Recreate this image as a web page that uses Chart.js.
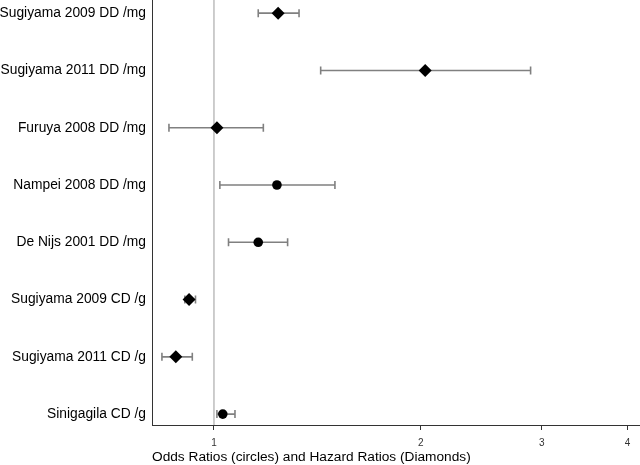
<!DOCTYPE html>
<html>
<head>
<meta charset="utf-8">
<script src="https://cdn.jsdelivr.net/npm/chart.js@4/dist/chart.umd.min.js"></script>
<style>
  html, body { margin: 0; padding: 0; background: #fff; }
  #wrap { width: 640px; height: 465px; }
</style>
</head>
<body>
<div id="wrap"><canvas id="forest"></canvas></div>
<script>
// Forest plot data (top to bottom)
const studies = ['Sugiyama 2009 DD /mg', 'Sugiyama 2011 DD /mg', 'Furuya 2008 DD /mg', 'Nampei 2008 DD /mg',
                 'De Nijs 2001 DD /mg', 'Sugiyama 2009 CD /g', 'Sugiyama 2011 CD /g', 'Sinigagila CD /g'];
const estimates = [1.24, 2.03, 1.01, 1.235, 1.16, 0.92, 0.88, 1.03];
const lower = [1.16, 1.43, 0.86, 1.02, 1.05, 0.907, 0.84, 1.01];
const upper = [1.33, 2.89, 1.18, 1.50, 1.28, 0.94, 0.93, 1.073];
const measure = ['HR', 'HR', 'HR', 'OR', 'OR', 'HR', 'HR', 'OR']; // HR = diamond, OR = circle
const xTicks = [1, 2, 3, 4];

const errorBars = {
    id: 'errorBars',
    beforeDatasetsDraw(chart) {
        const { ctx, chartArea, scales: { x, y } } = chart;
        ctx.save();
        // reference line at 1
        const x1 = x.getPixelForValue(1);
        ctx.strokeStyle = '#bdbdbd';
        ctx.lineWidth = 1.5;
        ctx.beginPath();
        ctx.moveTo(x1, chartArea.top);
        ctx.lineTo(x1, chartArea.bottom);
        ctx.stroke();
        // confidence intervals
        ctx.strokeStyle = '#808080';
        ctx.lineWidth = 1.6;
        studies.forEach((s, i) => {
            const py = y.getPixelForValue(i);
            const a = x.getPixelForValue(lower[i]);
            const b = x.getPixelForValue(upper[i]);
            ctx.beginPath();
            ctx.moveTo(a, py); ctx.lineTo(b, py);
            ctx.moveTo(a, py - 4); ctx.lineTo(a, py + 4);
            ctx.moveTo(b, py - 4); ctx.lineTo(b, py + 4);
            ctx.stroke();
        });
        ctx.restore();
    }
};

new Chart(document.getElementById('forest'), {
    type: 'scatter',
    data: {
        datasets: [{
            data: estimates.map((v, i) => ({ x: v, y: i })),
            pointStyle: measure.map(m => m === 'HR' ? 'rectRot' : 'circle'),
            pointRadius: measure.map(m => m === 'HR' ? 6.5 : 4.8),
            backgroundColor: '#000',
            borderColor: '#000',
            borderWidth: 0
        }]
    },
    options: {
        responsive: true,
        maintainAspectRatio: false,
        animation: false,
        layout: { padding: 0, autoPadding: false },
        plugins: { legend: { display: false }, tooltip: { enabled: false } },
        scales: {
            x: {
                type: 'logarithmic',
                min: 0.8125,
                max: 4.17,
                afterBuildTicks: (s) => { s.ticks = xTicks.map(v => ({ value: v })); },
                ticks: {
                    callback: (v) => String(v),
                    font: { family: 'Liberation Sans, Arial', size: 10 },
                    color: '#333',
                    maxRotation: 0,
                    padding: 7
                },
                grid: { drawOnChartArea: false, drawTicks: true, tickLength: 5, color: '#333' },
                border: { display: true, color: '#333', width: 1 },
                title: {
                    display: true,
                    align: 'start',
                    text: 'Odds Ratios (circles) and Hazard Ratios (Diamonds)',
                    font: { family: 'Liberation Sans, Arial', size: 13.7 },
                    color: '#000',
                    padding: { top: 0, bottom: 0 }
                },
                afterFit: (s) => { s.height = 40; s.paddingLeft = 0; s.paddingRight = 0; }
            },
            y: {
                type: 'linear',
                reverse: true,
                min: -0.23,
                max: 7.19,
                afterBuildTicks: (s) => { s.ticks = studies.map((_, i) => ({ value: i })); },
                ticks: {
                    callback: (v) => studies[v] || '',
                    font: { family: 'Liberation Sans, Arial', size: 13.8 },
                    color: '#000',
                    padding: 6
                },
                grid: { display: false, drawTicks: false },
                border: { display: true, color: '#333', width: 1 },
                afterFit: (s) => { s.width = 152; s.paddingTop = 0; s.paddingBottom = 0; }
            }
        }
    },
    plugins: [errorBars]
});
</script>
</body>
</html>
